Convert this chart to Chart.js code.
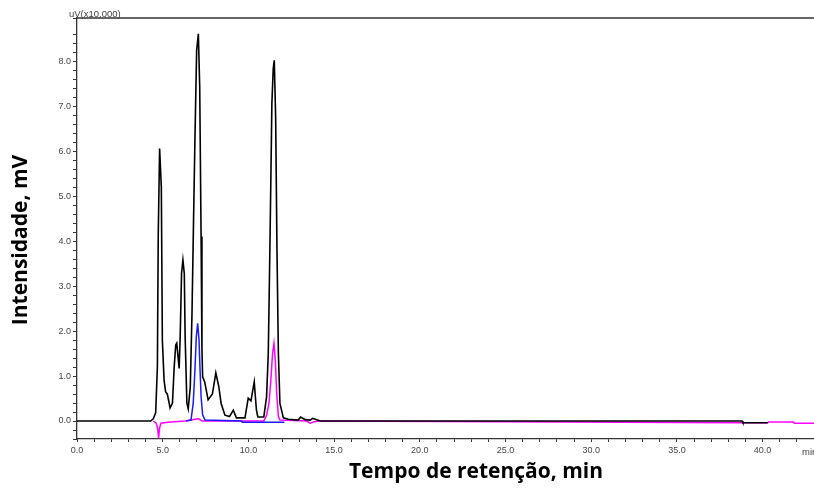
<!DOCTYPE html>
<html>
<head>
<meta charset="utf-8">
<script src="https://cdn.jsdelivr.net/npm/chart.js@4.4.1/dist/chart.umd.min.js"></script>
<style>
  html, body { margin: 0; padding: 0; background: #fff; }
  #wrap { width: 814px; height: 488px; position: relative; }
</style>
</head>
<body>
<div id="wrap"><canvas id="chrom"></canvas></div>
<script>
// Cromatograma - tempos (min) e intensidades (x10.000 uV)
const blackT = [0, 4.3, 4.45, 4.59, 4.69, 4.74, 4.82, 4.92, 4.98, 5.08, 5.17, 5.27, 5.35, 5.43, 5.57, 5.67, 5.76, 5.82, 5.96, 6.02, 6.10, 6.18, 6.26, 6.31, 6.41, 6.49, 6.61, 6.71, 6.80, 6.88, 6.98, 7.08, 7.16, 7.24, 7.29, 7.33, 7.45, 7.65, 7.9, 8.1, 8.27, 8.41, 8.63, 8.9, 9.12, 9.3, 9.8, 9.99, 10.15, 10.34, 10.47, 10.55, 10.9, 11.06, 11.16, 11.25, 11.31, 11.37, 11.45, 11.51, 11.59, 11.67, 11.75, 11.84, 12.04, 12.33, 12.9, 13.05, 13.31, 13.6, 13.75, 13.9, 14.2, 38.8, 38.85, 40.3];
const blackV = [0, 0, 0.05, 0.18, 1.2, 4.13, 6.06, 5.2, 1.8, 0.91, 0.65, 0.6, 0.45, 0.29, 0.4, 1.2, 1.69, 1.73, 1.17, 1.87, 3.28, 3.58, 3.28, 1.87, 0.4, 0.27, 0.76, 2.4, 4.47, 6.24, 8.24, 8.61, 7.43, 4.1, 1.6, 0.98, 0.87, 0.47, 0.6, 1.07, 0.77, 0.39, 0.13, 0.1, 0.24, 0.07, 0.07, 0.51, 0.45, 0.87, 0.24, 0.09, 0.09, 0.54, 1.5, 3.73, 5.36, 7.06, 7.84, 8.02, 6.76, 3.73, 1.5, 0.39, 0.07, 0.04, 0.02, 0.09, 0.03, 0.02, 0.06, 0.04, 0, 0, -0.04, -0.04];

const blueT = [6.37, 6.65, 6.78, 6.88, 6.96, 7.04, 7.12, 7.18, 7.24, 7.33, 7.47, 9.6, 9.65, 12.1];
const blueV = [0, 0.02, 0.39, 1.13, 1.87, 2.17, 1.8, 1.13, 0.54, 0.14, 0.02, 0, -0.03, -0.03];

const magT = [4.45, 4.62, 4.7, 4.76, 4.82, 4.9, 5.3, 6.3, 6.9, 7.1, 7.3, 10.9, 11.06, 11.2, 11.31, 11.41, 11.49, 11.57, 11.65, 11.75, 11.84, 13.4, 13.6, 13.8, 14.1, 38.8, 40.3, 40.35, 41.8, 41.85, 43];
const magV = [0, -0.05, -0.15, -0.38, -0.15, -0.05, -0.03, 0, 0.04, 0.05, 0, 0, 0.12, 0.39, 0.91, 1.5, 1.73, 1.36, 0.62, 0.1, 0.02, 0, -0.05, -0.02, 0, -0.04, -0.04, -0.02, -0.02, -0.05, -0.05];

const xMin = 0, xMax = 43, xStep = 1;
const yMin = -0.4, yMax = 8.96, yStep = 0.2;

const toPts = (ts, vs) => ts.map((t, i) => ({ x: t, y: vs[i] }));

// Textos extras: linha superior, unidade, "min" e títulos dos eixos
const extras = {
    id: 'extras',
    afterDraw(chart) {
        const { ctx, chartArea: a } = chart;
        ctx.save();
        ctx.strokeStyle = '#333';
        ctx.lineWidth = 1.3;
        ctx.beginPath();
        ctx.moveTo(a.left, a.top);
        ctx.lineTo(a.right, a.top);
        ctx.stroke();

        ctx.fillStyle = '#444';
        ctx.font = '9.5px "Liberation Sans", Arial, sans-serif';
        ctx.textAlign = 'left';
        ctx.textBaseline = 'alphabetic';
        ctx.fillText('uV(x10,000)', 69, 17);
        ctx.textBaseline = 'middle';
        ctx.fillText('min', 802, 452);

        ctx.fillStyle = '#000';
        ctx.font = 'bold 21px "Open Sans", sans-serif';
        ctx.textAlign = 'center';
        ctx.fillText('Tempo de retenção, min', 476, 472);
        ctx.translate(21, 240);
        ctx.rotate(-Math.PI / 2);
        ctx.fillText('Intensidade, mV', 0, 0);
        ctx.restore();
    }
};

const fmt = v => Math.abs(v - Math.round(v)) < 1e-6 ? Math.round(v).toFixed(1) : '';

new Chart(document.getElementById('chrom'), {
    type: 'line',
    data: {
        datasets: [
            { label: 'total', data: toPts(blackT, blackV), borderColor: '#000000', borderWidth: 1.6, pointRadius: 0, tension: 0, order: 0 },
            { label: 'azul', data: toPts(blueT, blueV), borderColor: '#1a1aff', borderWidth: 1.5, pointRadius: 0, tension: 0, order: 1 },
            { label: 'magenta', data: toPts(magT, magV), borderColor: '#ff00ff', borderWidth: 1.5, pointRadius: 0, tension: 0, order: 2 }
        ]
    },
    options: {
        responsive: true,
        maintainAspectRatio: false,
        animation: false,
        layout: { padding: { top: 18, left: 0, right: 0, bottom: 0 } },
        plugins: { legend: { display: false }, tooltip: { enabled: false } },
        scales: {
            x: {
                type: 'linear',
                min: xMin, max: xMax,
                afterFit: s => { s.height = 49; s.paddingRight = 0; s.paddingLeft = 0; },
                border: { display: true, color: '#333', width: 1.3 },
                grid: { drawOnChartArea: false, drawTicks: true, tickLength: 3, color: '#333' },
                ticks: {
                    stepSize: xStep, autoSkip: false, maxRotation: 0, padding: 3,
                    color: '#444', font: { family: '"Liberation Sans", Arial, sans-serif', size: 9 },
                    callback: v => (v % 5 === 0 && v < 43) ? v.toFixed(1) : ''
                }
            },
            y: {
                min: yMin, max: yMax,
                afterFit: s => { s.width = 77; },
                border: { display: true, color: '#333', width: 1.3 },
                grid: { drawOnChartArea: false, drawTicks: true, tickLength: 4, color: '#333' },
                ticks: {
                    stepSize: yStep, autoSkip: false, padding: 2,
                    color: '#444', font: { family: '"Liberation Sans", Arial, sans-serif', size: 9 },
                    callback: fmt
                }
            }
        }
    },
    plugins: [extras]
});
</script>
</body>
</html>
